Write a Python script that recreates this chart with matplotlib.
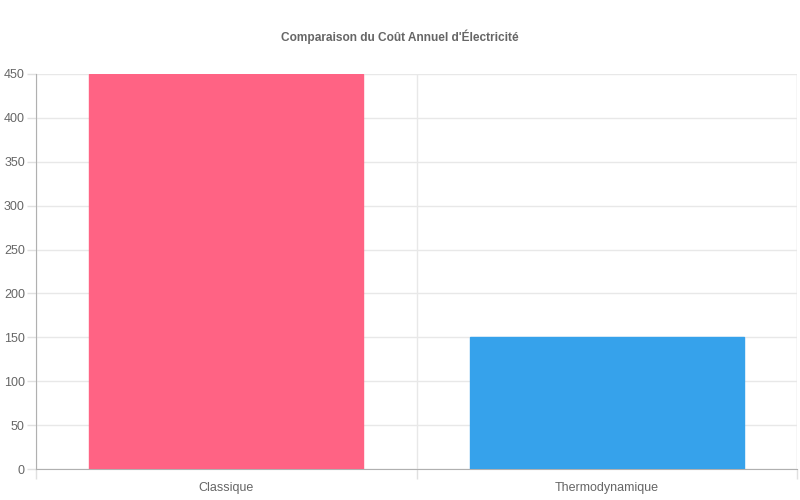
import matplotlib
matplotlib.use("Agg")
import matplotlib.pyplot as plt
import numpy as np

# data
categories = ["Classique", "Thermodynamique"]
costs = [450, 150]
bar_colors = ["#FF6384", "#36A2EB"]
y_ticks = [0, 50, 100, 150, 200, 250, 300, 350, 400, 450]

plt.rcParams['font.family'] = ['Liberation Sans', 'DejaVu Sans']

fig = plt.figure(figsize=(8, 5), dpi=100)
ax = fig.add_axes([36 / 800, 31 / 500, 761 / 800, 395 / 500])

x = np.arange(len(categories))
ax.bar(x, costs, width=0.72, color=bar_colors, edgecolor=bar_colors, linewidth=1, zorder=3)

ax.set_xlim(-0.5, len(categories) - 0.5)
ax.set_ylim(0, 450)
ax.set_yticks(y_ticks)
ax.set_xticks(x)
ax.set_xticklabels(categories)

# category boundary grid lines (chart.js style)
ax.set_xticks(np.arange(-0.5, len(categories)), minor=True)
ax.grid(True, which='minor', axis='x', color='#e8e8e8', linewidth=1, zorder=0)
ax.grid(True, which='major', axis='y', color='#e8e8e8', linewidth=1, zorder=0)
ax.tick_params(axis='x', which='major', length=0, pad=9, labelsize=9, labelcolor='#666666')
ax.tick_params(axis='x', which='minor', length=7, color='#e0e0e0', width=1)
ax.tick_params(axis='y', length=6.5, color='#e0e0e0', width=1, pad=1.5, labelsize=9, labelcolor='#666666')

for side in ['top', 'right']:
    ax.spines[side].set_visible(False)
ax.spines['left'].set_color('#b0b0b0')
ax.spines['bottom'].set_color('#b0b0b0')
ax.axvline(len(categories) - 0.5, color='#e8e8e8', linewidth=1, zorder=0)

fig.text(0.5, 1 - 37 / 500, "Comparaison du Coût Annuel d'Électricité", ha='center', va='center',
         fontsize=8.6, fontweight='bold', color='#666666')

fig.savefig("out.png", dpi=100)
